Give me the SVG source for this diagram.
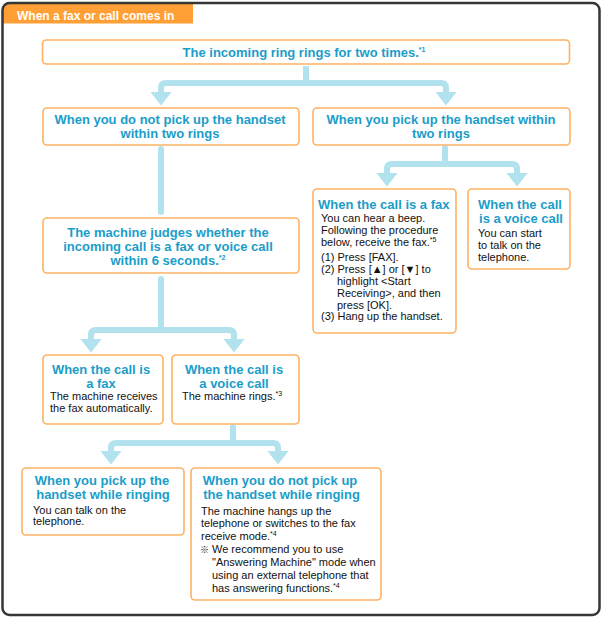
<svg xmlns="http://www.w3.org/2000/svg" width="604" height="619" viewBox="0 0 604 619">
<defs>
<style>
.box{fill:#fff;stroke:#fdb263;stroke-width:1.6}
.h{font-family:"Liberation Sans",Arial,sans-serif;font-weight:bold;font-size:13px;fill:#1b9dc9}
.b{font-family:"Liberation Sans",Arial,"Noto Sans CJK JP",sans-serif;font-size:11px;fill:#111}
.sup{font-size:7px}
.c{text-anchor:middle}
.con{fill:none;stroke:#b3e2ef;stroke-width:6;stroke-linejoin:round}
.rc{stroke-linecap:round}
</style>
<marker id="arr" viewBox="0 0 14 22" refX="0.5" refY="11" markerWidth="14" markerHeight="22" markerUnits="userSpaceOnUse" orient="auto">
<path d="M0,0 L14,11 L0,22 Z" fill="#b3e2ef"/>
</marker>
</defs>

<g id="frame">
<path d="M3,10 Q3,3 10,3 H193 V23.5 H3 Z" fill="#ff9f35"/>
<rect x="2.5" y="3" width="597" height="612" rx="7" fill="none" stroke="#363636" stroke-width="2.5"/>
<text x="17" y="19.5" font-family="Liberation Sans,Arial,sans-serif" font-weight="bold" font-size="12" fill="#fff">When a fax or call comes in</text>
</g>

<g id="connectors">
<path class="con" d="M306,66 V83 H166 Q161,83 161,88 V92" marker-end="url(#arr)"/>
<path class="con" d="M306,83 H441 Q446,83 446,88 V92" marker-end="url(#arr)"/>
<path class="con rc" d="M161,149 V212"/>
<path class="con rc" d="M161,279 V330 H96 Q91,330 91,335 V339" marker-end="url(#arr)"/>
<path class="con" d="M161,330 H229 Q234,330 234,335 V339" marker-end="url(#arr)"/>
<path class="con rc" d="M445,148 V164 H392 Q387,164 387,169 V173" marker-end="url(#arr)"/>
<path class="con" d="M445,164 H512 Q517,164 517,169 V173" marker-end="url(#arr)"/>
<path class="con rc" d="M233,427 V443 H116 Q111,443 111,448 V451" marker-end="url(#arr)"/>
<path class="con" d="M233,443 H273 Q278,443 278,448 V451" marker-end="url(#arr)"/>
</g>

<g id="n-ring">
<rect class="box" x="42.5" y="40" width="527" height="24" rx="4"/>
<text class="h c" x="304" y="57">The incoming ring rings for two times.<tspan class="sup" dy="-5">*1</tspan></text>
</g>

<g id="n-nopick">
<rect class="box" x="43" y="108" width="256" height="37" rx="4"/>
<text class="h c" x="170" y="124">When you do not pick up the handset</text>
<text class="h c" x="170" y="138">within two rings</text>
</g>

<g id="n-pick">
<rect class="box" x="313" y="108" width="257" height="37" rx="4"/>
<text class="h c" x="441" y="124">When you pick up the handset within</text>
<text class="h c" x="441" y="138">two rings</text>
</g>

<g id="n-judge">
<rect class="box" x="43" y="218" width="256" height="55" rx="4"/>
<text class="h c" x="168" y="237">The machine judges whether the</text>
<text class="h c" x="168" y="251">incoming call is a fax or voice call</text>
<text class="h c" x="168" y="265">within 6 seconds.<tspan class="sup" dy="-5">*2</tspan></text>
</g>

<g id="n-fax-auto">
<rect class="box" x="43" y="355" width="120" height="69" rx="4"/>
<text class="h c" x="101" y="374">When the call is</text>
<text class="h c" x="101" y="388">a fax</text>
<text class="b" x="50" y="400">The machine receives</text>
<text class="b" x="50" y="412">the fax automatically.</text>
</g>

<g id="n-voice-ring">
<rect class="box" x="172" y="355" width="127" height="69" rx="4"/>
<text class="h c" x="234" y="374">When the call is</text>
<text class="h c" x="234" y="388">a voice call</text>
<text class="b" x="182" y="400">The machine rings.<tspan class="sup" dy="-4">*3</tspan></text>
</g>

<g id="n-fax-manual">
<rect class="box" x="313" y="189" width="143" height="144" rx="4"/>
<text class="h" x="318" y="209">When the call is a fax</text>
<text class="b" x="321" y="222">You can hear a beep.</text>
<text class="b" x="321" y="234">Following the procedure</text>
<text class="b" x="321" y="245.5">below, receive the fax.<tspan class="sup" dy="-4">*5</tspan></text>
<text class="b" x="321" y="260.5">(1) Press [FAX].</text>
<text class="b" x="321" y="272.5">(2) Press [▲] or [▼] to</text>
<text class="b" x="337" y="284.5">highlight &lt;Start</text>
<text class="b" x="337" y="296.5">Receiving&gt;, and then</text>
<text class="b" x="337" y="308.5">press [OK].</text>
<text class="b" x="321" y="320">(3) Hang up the handset.</text>
</g>

<g id="n-voice-talk">
<rect class="box" x="468" y="189" width="102" height="80" rx="4"/>
<text class="h c" x="520" y="209">When the call</text>
<text class="h c" x="521" y="223">is a voice call</text>
<text class="b" x="478" y="236.5">You can start</text>
<text class="b" x="478" y="248.5">to talk on the</text>
<text class="b" x="478" y="261">telephone.</text>
</g>

<g id="n-pick-ringing">
<rect class="box" x="22" y="468" width="162" height="67" rx="4"/>
<text class="h c" x="102" y="485">When you pick up the</text>
<text class="h c" x="103" y="498.5">handset while ringing</text>
<text class="b" x="33" y="513.5">You can talk on the</text>
<text class="b" x="33" y="525">telephone.</text>
</g>

<g id="n-nopick-ringing">
<rect class="box" x="191" y="468" width="190" height="132" rx="4"/>
<text class="h c" x="280" y="485">When you do not pick up</text>
<text class="h c" x="281.5" y="498.5">the handset while ringing</text>
<text class="b" x="201" y="514.7">The machine hangs up the</text>
<text class="b" x="201" y="527.3">telephone or switches to the fax</text>
<text class="b" x="201" y="540">receive mode.<tspan class="sup" dy="-4">*4</tspan></text>
<text class="b" x="200" y="553.3"><tspan font-size="9">※</tspan></text>
<text class="b" x="212" y="553.3">We recommend you to use</text>
<text class="b" x="212" y="566">"Answering Machine" mode when</text>
<text class="b" x="212" y="579">using an external telephone that</text>
<text class="b" x="212" y="591.7">has answering functions.<tspan class="sup" dy="-4">*4</tspan></text>
</g>
</svg>
